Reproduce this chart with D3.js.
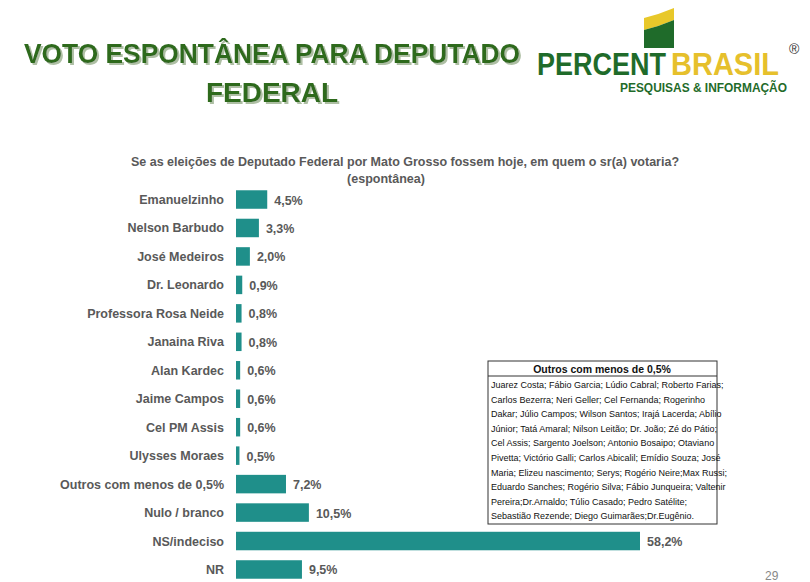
<!DOCTYPE html>
<html>
<head>
<meta charset="utf-8">
<script src="https://cdnjs.cloudflare.com/ajax/libs/d3/7.8.5/d3.min.js"></script>
<style>
  body { margin: 0; background: #fff; }
  text { font-family: "Liberation Sans", Arial, sans-serif; }
</style>
</head>
<body>
<svg id="chart" width="810" height="582">
  <defs>
    <filter id="sombra" x="-5%" y="-20%" width="110%" height="140%">
      <feDropShadow dx="2" dy="2" stdDeviation="0.6" flood-color="#aebfa4"/>
    </filter>
  </defs>
</svg>
<script>
var candidatos = ["Emanuelzinho", "Nelson Barbudo", "José Medeiros", "Dr. Leonardo",
  "Professora Rosa Neide", "Janaina Riva", "Alan Kardec", "Jaime Campos", "Cel PM Assis",
  "Ulysses Moraes", "Outros com menos de 0,5%", "Nulo / branco", "NS/indeciso", "NR"];
var percentuais = [4.5, 3.3, 2.0, 0.9, 0.8, 0.8, 0.6, 0.6, 0.6, 0.5, 7.2, 10.5, 58.2, 9.5];
var outrosLinhas = [
  " Juarez Costa; Fábio Garcia; Lúdio Cabral; Roberto Farias;",
  "Carlos Bezerra; Neri Geller; Cel Fernanda; Rogerinho",
  "Dakar; Júlio Campos; Wilson Santos; Irajá Lacerda; Abílio",
  "Júnior; Tatá Amaral; Nilson Leitão; Dr. João; Zé do Pátio;",
  "Cel Assis; Sargento Joelson; Antonio Bosaipo; Otaviano",
  "Pivetta; Victório Galli; Carlos Abicalil; Emídio Souza; José",
  "Maria; Elizeu nascimento; Serys; Rogério Neire;Max Russi;",
  "Eduardo Sanches; Rogério Silva; Fábio Junqueira; Valtenir",
  "Pereira;Dr.Arnaldo; Túlio Casado; Pedro Satélite;",
  "Sebastião Rezende; Diego Guimarães;Dr.Eugênio."
];

var svg = d3.select("#chart");

// title
var title = svg.append("g").attr("font-weight", "bold").attr("font-size", 28).attr("text-anchor", "middle")
  .attr("fill", "#2d6a1e").attr("filter", "url(#sombra)");
title.append("text").attr("x", 272).attr("y", 63).attr("textLength", 496)
  .attr("lengthAdjust", "spacingAndGlyphs").text("VOTO ESPONTÂNEA PARA DEPUTADO");
title.append("text").attr("x", 272).attr("y", 102).text("FEDERAL");

// logo
var logo = svg.append("g");
logo.append("path").attr("d", "M644,18 Q660,14 674,8 L674,20 Q660,26 644,30 Z").attr("fill", "#e8c82a");
logo.append("path").attr("d", "M644,30 Q660,26 674,20 L674,48 L644,48 Z").attr("fill", "#1f6b2a");
logo.append("text").attr("x", 537).attr("y", 75).attr("font-size", 32).attr("font-weight", "bold")
  .attr("textLength", 129).attr("lengthAdjust", "spacingAndGlyphs").attr("fill", "#1f6b2a").text("PERCENT");
logo.append("text").attr("x", 671).attr("y", 75).attr("font-size", 32).attr("font-weight", "bold")
  .attr("textLength", 108).attr("lengthAdjust", "spacingAndGlyphs").attr("fill", "#e6c02c").text("BRASIL");
logo.append("text").attr("x", 789).attr("y", 54).attr("font-size", 14).attr("fill", "#333").text("®");
logo.append("text").attr("x", 620).attr("y", 92).attr("font-size", 13).attr("font-weight", "bold")
  .attr("textLength", 167).attr("lengthAdjust", "spacingAndGlyphs").attr("fill", "#1f6b2a").text("PESQUISAS & INFORMAÇÃO");

// subtitle
svg.append("text").attr("x", 405).attr("y", 166).attr("text-anchor", "middle").attr("font-size", 12.5)
  .attr("font-weight", "bold").attr("fill", "#595959")
  .text("Se as eleições de Deputado Federal por Mato Grosso fossem hoje, em quem o sr(a) votaria?");
svg.append("text").attr("x", 386).attr("y", 183).attr("text-anchor", "middle").attr("font-size", 12.5)
  .attr("font-weight", "bold").attr("fill", "#595959").text("(espontânea)");

// bars
var x = d3.scaleLinear().domain([0, 58.2]).range([236, 640]);
var y = d3.scaleBand().domain(candidatos).range([186, 583]).paddingInner(0.35).paddingOuter(0.15);

var rows = svg.append("g").selectAll("g").data(candidatos).join("g");
rows.append("rect").attr("x", x(0)).attr("y", function (d) { return y(d); })
  .attr("width", function (d, i) { return x(percentuais[i]) - x(0); })
  .attr("height", y.bandwidth()).attr("fill", "#1f8f8a");
rows.append("text").attr("x", 224).attr("y", function (d) { return y(d) + y.bandwidth() / 2 + 4.5; })
  .attr("text-anchor", "end").attr("font-size", 12.5).attr("font-weight", "bold").attr("fill", "#595959")
  .text(function (d) { return d; });
rows.append("text").attr("x", function (d, i) { return x(percentuais[i]) + 7; })
  .attr("y", function (d) { return y(d) + y.bandwidth() / 2 + 5; })
  .attr("font-size", 12.5).attr("font-weight", "bold").attr("fill", "#595959")
  .text(function (d, i) { return d3.format(".1f")(percentuais[i]).replace(".", ",") + "%"; });

// box with others
var box = svg.append("g").attr("transform", "translate(488,361)");
box.append("rect").attr("width", 229).attr("height", 163).attr("fill", "#fff").attr("stroke", "#333");
box.append("line").attr("x1", 0).attr("x2", 229).attr("y1", 15).attr("y2", 15).attr("stroke", "#333");
box.append("text").attr("x", 114).attr("y", 12).attr("text-anchor", "middle").attr("font-size", 10.5)
  .attr("font-weight", "bold").attr("fill", "#111").text("Outros com menos de 0,5%");
box.selectAll("text.l").data(outrosLinhas).join("text").attr("class", "l")
  .attr("x", 3).attr("y", function (d, i) { return 27 + i * 14.6; })
  .attr("font-size", 9).attr("fill", "#111").attr("font-family", "Open Sans, sans-serif")
  .text(function (d) { return d; });

svg.append("text").attr("x", 765).attr("y", 580).attr("font-size", 12).attr("fill", "#888").text("29");
</script>
</body>
</html>
